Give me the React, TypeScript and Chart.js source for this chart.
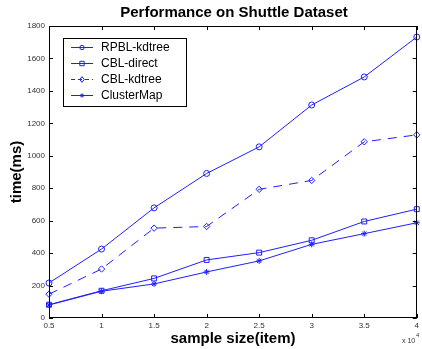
import React, { useEffect, useRef } from "react";
import { Chart, registerables } from "chart.js";

Chart.register(...registerables);

const sampleSizes = [0.5, 1, 1.5, 2, 2.5, 3, 3.5, 4];
const rpblKdtree = [216, 425, 679, 891, 1055, 1313, 1486, 1732];
const cblDirect = [82, 168, 244, 358, 403, 479, 595, 671];
const cblKdtree = [147, 302, 554, 564, 793, 848, 1086, 1129];
const clusterMap = [80, 165, 210, 284, 352, 454, 520, 587];
const seriesNames = ["RPBL-kdtree", "CBL-direct", "CBL-kdtree", "ClusterMap"];
const xTicks = [0.5, 1, 1.5, 2, 2.5, 3, 3.5, 4];
const yTicks = [0, 200, 400, 600, 800, 1000, 1200, 1400, 1600, 1800];

const BLUE = "#1f1fff";
const FONT = "'Liberation Sans', Arial, sans-serif";

function drawMarker(ctx: CanvasRenderingContext2D, style: string, x: number, y: number, r: number) {
  ctx.save();
  ctx.strokeStyle = BLUE;
  ctx.lineWidth = 1;
  ctx.beginPath();
  if (style === "circle") {
    ctx.arc(x, y, r, 0, Math.PI * 2);
  } else if (style === "rect") {
    ctx.rect(x - r, y - r, 2 * r, 2 * r);
  } else if (style === "rectRot") {
    ctx.moveTo(x, y - r * 1.3);
    ctx.lineTo(x + r, y);
    ctx.lineTo(x, y + r * 1.3);
    ctx.lineTo(x - r, y);
    ctx.closePath();
  } else {
    for (let k = 0; k < 4; k++) {
      const a = (k * Math.PI) / 4;
      ctx.moveTo(x - Math.cos(a) * r, y - Math.sin(a) * r);
      ctx.lineTo(x + Math.cos(a) * r, y + Math.sin(a) * r);
    }
  }
  ctx.stroke();
  ctx.restore();
}

const decorPlugin = {
  id: "decor",
  afterDraw(chart: any) {
    const { ctx, chartArea } = chart;
    const { left, right, top, bottom } = chartArea;
    const xs = chart.scales.x;
    const ys = chart.scales.y;
    ctx.save();
    ctx.strokeStyle = "#000";
    ctx.lineWidth = 1;
    ctx.strokeRect(Math.round(left) + 0.5, Math.round(top) + 0.5, Math.round(right - left) - 1, Math.round(bottom - top) - 1);
    ctx.beginPath();
    const tl = 4;
    xTicks.forEach((v) => {
      const px = Math.round(xs.getPixelForValue(v)) + 0.5;
      ctx.moveTo(px, bottom);
      ctx.lineTo(px, bottom - tl);
      ctx.moveTo(px, top);
      ctx.lineTo(px, top + tl);
    });
    yTicks.forEach((v) => {
      const py = Math.round(ys.getPixelForValue(v)) + 0.5;
      ctx.moveTo(left, py);
      ctx.lineTo(left + tl, py);
      ctx.moveTo(right, py);
      ctx.lineTo(right - tl, py);
    });
    ctx.stroke();

    ctx.fillStyle = "#000";
    ctx.textAlign = "center";
    ctx.textBaseline = "middle";
    ctx.font = `bold 15px ${FONT}`;
    ctx.fillText("Performance on Shuttle Dataset", 234, 13);
    ctx.font = `bold 15px ${FONT}`;
    ctx.fillText("sample size(item)", 233, 339);
    ctx.save();
    ctx.translate(17, 172);
    ctx.rotate(-Math.PI / 2);
    ctx.fillText("time(ms)", 0, 0);
    ctx.restore();
    ctx.fillStyle = "#333";
    ctx.font = `7px ${FONT}`;
    ctx.textAlign = "left";
    ctx.fillText("x 10", 402, 341);
    ctx.font = `6px ${FONT}`;
    ctx.fillText("4", 416, 335);

    const bx = 63.5, by = 38.5, bw = 123, bh = 68;
    ctx.fillStyle = "#fff";
    ctx.fillRect(bx, by, bw, bh);
    ctx.strokeStyle = "#000";
    ctx.lineWidth = 1;
    ctx.strokeRect(bx, by, bw, bh);
    const rows = [47.5, 63.5, 79.5, 95.5];
    const styles = ["circle", "rect", "rectRot", "star"];
    seriesNames.forEach((name, i) => {
      const y = rows[i];
      ctx.strokeStyle = BLUE;
      ctx.lineWidth = 1;
      ctx.setLineDash(i === 2 ? [4, 3] : []);
      ctx.beginPath();
      ctx.moveTo(71, y);
      ctx.lineTo(93, y);
      ctx.stroke();
      ctx.setLineDash([]);
      drawMarker(ctx, styles[i], 82, y, 2.2);
      ctx.fillStyle = "#000";
      ctx.font = `12px ${FONT}`;
      ctx.textAlign = "left";
      ctx.textBaseline = "middle";
      ctx.fillText(name, 101, y + 0.5);
    });
    ctx.restore();
  },
};

export default function App() {
  const ref = useRef<HTMLCanvasElement>(null);
  useEffect(() => {
    const toPts = (arr: number[]) => arr.map((v, i) => ({ x: sampleSizes[i], y: v }));
    const base = {
      borderColor: BLUE,
      backgroundColor: "transparent",
      pointBorderColor: BLUE,
      pointBackgroundColor: "transparent",
      borderWidth: 1,
      pointBorderWidth: 1,
      tension: 0,
      clip: false as any,
    };
    const chart = new Chart(ref.current!, {
      type: "line",
      data: {
        datasets: [
          { ...base, label: seriesNames[0], data: toPts(rpblKdtree), pointStyle: "circle", pointRadius: 3 },
          { ...base, label: seriesNames[1], data: toPts(cblDirect), pointStyle: "rect", pointRadius: 3.5 },
          { ...base, label: seriesNames[2], data: toPts(cblKdtree), pointStyle: "rectRot", pointRadius: 3.2, borderDash: [9, 7] },
          { ...base, label: seriesNames[3], data: toPts(clusterMap), pointStyle: "star", pointRadius: 3 },
        ],
      },
      options: {
        animation: false,
        responsive: false,
        maintainAspectRatio: false,
        layout: { padding: { top: 26, right: 2, left: 0, bottom: 0 } },
        plugins: { legend: { display: false }, title: { display: false }, tooltip: { enabled: false } },
        scales: {
          x: {
            type: "linear",
            min: 0.5,
            max: 4,
            afterBuildTicks: (s: any) => { s.ticks = xTicks.map((v) => ({ value: v })); },
            afterFit: (s: any) => { s.height = 31; },
            grid: { display: false, drawTicks: false },
            border: { display: false },
            ticks: { color: "#333", font: { size: 8, family: FONT }, padding: 3, maxRotation: 0, autoSkip: false, callback: (v: any) => String(v) },
          },
          y: {
            min: 0,
            max: 1800,
            afterBuildTicks: (s: any) => { s.ticks = yTicks.map((v) => ({ value: v })); },
            afterFit: (s: any) => { s.width = 49; },
            grid: { display: false, drawTicks: false },
            border: { display: false },
            ticks: { color: "#333", font: { size: 8, family: FONT }, padding: 4, autoSkip: false, callback: (v: any) => String(v) },
          },
        },
      },
      plugins: [decorPlugin],
    });
    return () => chart.destroy();
  }, []);
  return (
    <div style={{ position: "fixed", left: 0, top: 0, width: 422, height: 349, background: "#fff" }}>
      <canvas ref={ref} width={422} height={349} style={{ display: "block" }} />
    </div>
  );
}
